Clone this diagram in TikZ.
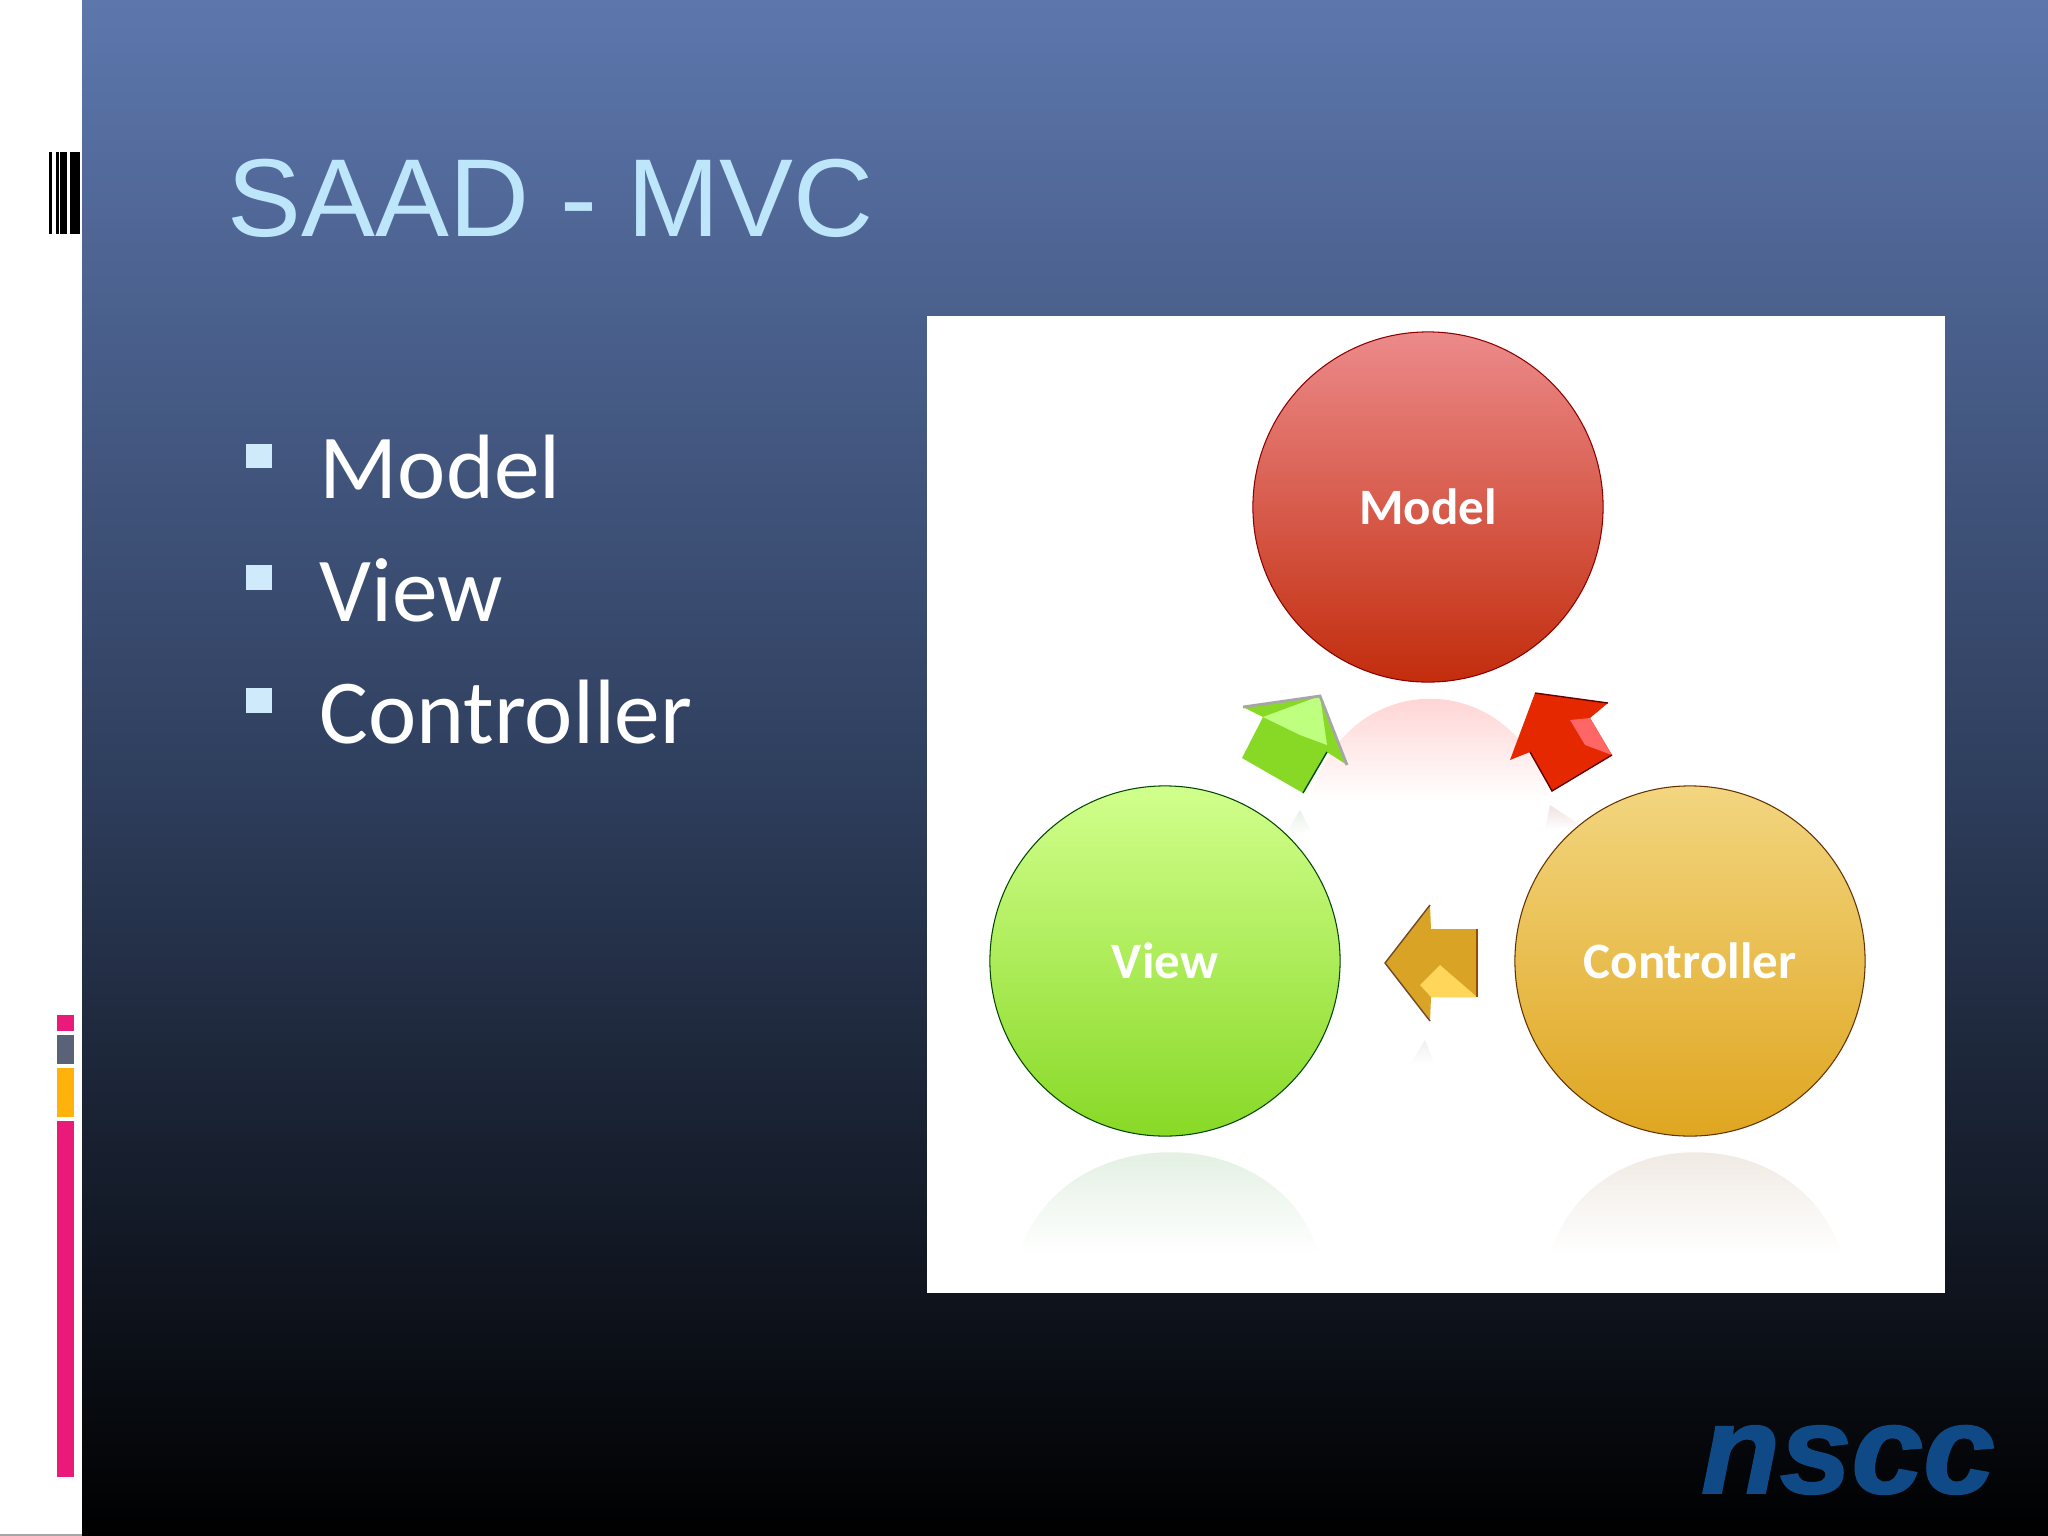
\documentclass[tikz,border=0pt]{standalone}
\usepackage{fontspec}
\setmainfont{Carlito}
\newfontfamily\titlefont{Liberation Sans}
\newfontfamily\logofont[FakeBold=1.5]{Liberation Sans}
\colorlet{background}{white}
\definecolor{panelTop}{HTML}{5D77AD}
\definecolor{panelMid}{HTML}{2F3F5E}
\definecolor{titleColor}{HTML}{BDE6FB}
\definecolor{bulletColor}{HTML}{CFEAFA}
\definecolor{barPink}{HTML}{EA1A7A}
\definecolor{barGrey}{HTML}{5A6278}
\definecolor{barAmber}{HTML}{FFB20A}
\definecolor{logoBlue}{HTML}{0F4A86}
\tikzset{
  ball/.style={circle,minimum size=3.5cm,inner sep=0pt,text=white,font=\fontsize{14.5}{16}\selectfont\bfseries,draw=#1!55!black,line width=.3pt},
  glow/.style={top color=#1,bottom color=white,draw=none},
  bullet/.style={bulletColor,fill},
  item/.style={right,inner sep=0pt,text=white,font=\fontsize{26}{30}\selectfont},
}
\begin{document}
\begin{tikzpicture}[x=.01cm,y=-.01cm]
\useasboundingbox (0,0) rectangle (2048,1536);
\fill[white] (0,0) rectangle (82,1536);
\shade[top color=panelTop,bottom color=panelMid] (82,0) rectangle (2048,768);
\shade[top color=panelMid,bottom color=black] (82,768) rectangle (2048,1536);
\fill[gray!70] (0,1534) rectangle (82,1536);
% bars on the left
\fill[black] (49,152) rectangle (52,234);
\fill[black] (56,152) rectangle (58.5,234);
\fill[black] (60,152) rectangle (66.5,234);
\fill[black] (69.5,152) rectangle (80,234);
\fill[barPink] (57,1014.5) rectangle (73.7,1030.7);
\fill[barGrey] (57,1035) rectangle (73.7,1064);
\fill[barAmber] (57,1068) rectangle (73.7,1117);
\fill[barPink] (57,1121) rectangle (73.7,1477);
\node[right,inner sep=0pt,text=titleColor,font=\titlefont\fontsize{31.5}{36}\selectfont] (title) at (227,198) {SAAD - MVC};
% bullet list
\fill[bullet] (246,444) rectangle (272,468);
\fill[bullet] (246,565) rectangle (272,590);
\fill[bullet] (246,688) rectangle (272,713);
\node[item] (itemModel) at (319,467) {Model};
\node[item] (itemView) at (319,590) {View};
\node[item] (itemController) at (319,712) {Controller};
% picture on the right
\fill[white] (927,316) rectangle (1945,1293);
\path[glow=red!22!white] (1310,800) .. controls (1345,665) and (1515,665) .. (1550,800) -- cycle;
\path[glow=green!30!gray!22!white] (1019,1255) .. controls (1060,1118) and (1280,1118) .. (1319,1255) -- cycle;
\path[glow=orange!30!gray!22!white] (1550,1255) .. controls (1590,1118) and (1800,1118) .. (1842,1255) -- cycle;
\path[glow=green!30!gray!15!white] (1285,835) -- (1300,810) -- (1310,830) -- cycle;
\path[glow=red!30!gray!18!white] (1545,830) -- (1550,805) -- (1580,825) -- cycle;
\path[glow=gray!12!white] (1410,1065) -- (1425,1040) -- (1435,1065) -- cycle;
\node[ball=red,top color=red!45!white!85!gray,middle color=red!55!orange!70!white!92!black,bottom color=red!65!orange!75!black!95!white] (model) at (1428,507) {Model};
\node[ball=green!50!black,top color=green!40!yellow!45!white,middle color=green!45!yellow!70!white!90!gray,bottom color=green!45!yellow!70!gray] (view) at (1165,961) {View};
\node[ball=orange!70!black,top color=orange!50!yellow!50!white!90!gray,middle color=orange!60!yellow!65!white!90!gray,bottom color=orange!60!yellow!75!gray] (controller) at (1690,961) {Controller};
% green arrow
\fill[green!45!yellow!70!gray] (1243,707) -- (1320,696) -- (1347,765) -- (1327,752) -- (1303,793) -- (1242,758) -- (1263,717) -- cycle;
\fill[green!50!yellow!50!white] (1263,717) -- (1320,696) -- (1327,745) -- (1300,735) -- cycle;
\draw[gray!70,thick] (1243,707) -- (1320,696) -- (1347,765);
\draw[green!30!black] (1327,752) -- (1303,793);
% red arrow
\fill[red!65!orange!90!black] (1535,693) -- (1608,703) -- (1590,718) -- (1612,755) -- (1552,791) -- (1530,752) -- (1510,760) -- cycle;
\fill[red!60!white] (1570,720) -- (1590,718) -- (1612,755) -- (1585,745) -- cycle;
\draw[red!40!black] (1535,693) -- (1608,703);
\draw[red!40!black] (1530,752) -- (1552,791) -- (1612,755);
% gold arrow
\fill[orange!60!yellow!70!gray] (1385,963) -- (1430,905) -- (1431,929) -- (1477,929) -- (1477,997) -- (1431,997) -- (1430,1021) -- cycle;
\fill[orange!50!yellow!65!white] (1420,985) -- (1440,965) -- (1477,997) -- (1431,997) -- cycle;
\draw[orange!40!black!70!gray] (1430,905) -- (1385,963) -- (1430,1021);
\draw[orange!60!black] (1477,929) -- (1477,997);
\node[text=logoBlue,inner sep=0pt,anchor=base,xscale=1.03,font=\logofont\fontsize{35.6}{40}\selectfont\bfseries\itshape] (logo) at (1848,1493) {nscc};
\end{tikzpicture}
\end{document}
